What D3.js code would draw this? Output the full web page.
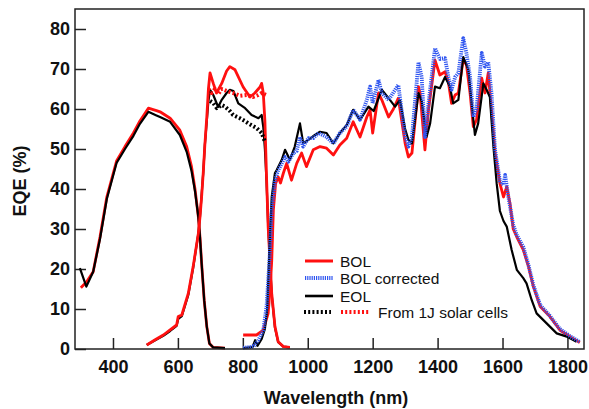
<!DOCTYPE html>
<html>
<head>
<meta charset="utf-8">
<script src="https://cdn.jsdelivr.net/npm/d3@7"></script>
<style>
  body { margin: 0; background: #fff; }
  svg { display: block; font-family: Arial, "Liberation Sans", sans-serif; }
  .tick text { font-size: 18px; font-weight: bold; fill: #111; }
</style>
</head>
<body>
<svg id="chart" width="589" height="409"></svg>
<script>
// top junction
const j1Wl = [301, 319, 339, 360, 381, 411, 437, 463, 483, 509, 534, 545, 576, 606, 627, 642, 653, 663, 668, 673, 681, 689, 697, 709, 745];
const j1Bol = [15.3, 16.8, 19.3, 28, 38, 47, 50.6, 54, 57, 60.2, 59.6, 59.3, 57.7, 54.7, 50.6, 45.6, 39.8, 33, 28, 21.5, 12.2, 5.6, 1.4, 0.4, 0.2];
const j1EolWl = [298, 318, 339, 360, 381, 411, 437, 463, 483, 509, 534, 545, 576, 606, 627, 642, 653, 663, 668, 673, 681, 689, 697, 709, 745];
const j1Eol = [20.2, 15.6, 19.3, 27.5, 37.5, 46.5, 50, 53.3, 56.3, 59.3, 58.4, 58, 56.8, 53.5, 49.3, 44.5, 39.3, 33, 28, 21.5, 12.2, 5.6, 1.4, 0.4, 0.2];

// middle junction
const j2Wl = [504, 530, 555, 576, 596, 601, 612, 632, 647, 663, 668, 673, 678, 683, 689, 694, 699, 709, 719, 735, 750, 760, 776, 801, 822, 837, 853, 858, 863, 868, 873, 878, 889, 899, 909, 925, 945];
const j2Bol = [1, 2.3, 3.5, 4.8, 6, 8.1, 8.5, 13.9, 20.6, 28.9, 33, 38, 44, 51, 58, 65, 69, 66.4, 64, 66.4, 69.5, 70.6, 69.8, 65.5, 63, 64, 65.5, 66.4, 64, 57, 43, 30.6, 13.9, 5.6, 1.8, 0.6, 0.4];
const j2EolWl = [504, 530, 555, 576, 596, 601, 612, 632, 647, 663, 668, 678, 683, 689, 694, 699, 709, 724, 735, 750, 760, 771, 786, 807, 827, 848, 858, 863, 868, 873, 878, 889, 899, 909, 925, 945];
const j2Eol = [1, 2.2, 3.3, 4.5, 5.8, 7.5, 8.2, 13.5, 20.3, 28.9, 33, 44, 51, 57, 62, 64.8, 63.5, 60.5, 62.3, 64, 64.8, 64.5, 61.4, 60.2, 58.5, 57.7, 58.5, 55.5, 50, 42, 31, 13.5, 5.4, 1.7, 0.6, 0.4];
// from 1J solar cells
const j2Eol1JWl = [699, 709, 720, 735, 745, 760, 770, 791, 806, 817, 843, 858, 868];
const j2Eol1J = [62, 61.5, 60.2, 61, 60.6, 59.5, 58.5, 57.7, 57, 56.4, 55.2, 54, 51.8];
const j2Bol1JWl = [694, 704, 714, 725, 735, 750, 770, 791, 812, 832, 848, 858, 872];
const j2Bol1J = [65, 64, 65, 63.8, 65, 64.5, 64, 63.3, 63.5, 63, 63.5, 64, 63.5];

// bottom junction
const j3Wl = [801, 842, 863, 878, 884, 889, 894, 901, 909, 916, 925, 935, 950, 966, 981, 996, 1017, 1038, 1058, 1079, 1099, 1120, 1140, 1161, 1182, 1192, 1200, 1218, 1228, 1249, 1264, 1279, 1300, 1310, 1321, 1341, 1346, 1361, 1372, 1392, 1407, 1423, 1433, 1443, 1454, 1464, 1479, 1489, 1500, 1510, 1520, 1536, 1546, 1556, 1566, 1577, 1592, 1603, 1613, 1623, 1633, 1644, 1664, 1680, 1695, 1716, 1746, 1777, 1808, 1838];
const j3Bol = [3.5, 3.5, 4.7, 8.9, 15, 22, 34.7, 41.4, 43, 41.5, 44, 46.4, 42.2, 46.4, 49, 45.6, 49.8, 50.6, 50.2, 48.5, 51, 52.7, 56.8, 53, 58, 59.8, 54, 64, 62.3, 58, 60, 62.7, 51.4, 48, 49, 65.6, 64, 49.8, 59.8, 72.2, 68.5, 69.3, 66.8, 61.4, 63.5, 64, 72.5, 71, 64, 55.6, 57.3, 67.7, 64, 69, 59.8, 49, 41.4, 38, 40.6, 36.4, 30, 28, 24.8, 20.6, 15.6, 10.6, 8.1, 4.7, 3.1, 1.6];
const j3CorrWl = [801, 832, 848, 863, 873, 882, 889, 899, 909, 920, 930, 940, 956, 966, 976, 986, 1002, 1017, 1033, 1058, 1079, 1099, 1120, 1140, 1161, 1182, 1192, 1200, 1218, 1228, 1249, 1279, 1300, 1310, 1321, 1341, 1351, 1361, 1372, 1392, 1407, 1423, 1433, 1443, 1454, 1464, 1479, 1489, 1500, 1510, 1520, 1536, 1546, 1556, 1566, 1577, 1592, 1603, 1608, 1618, 1633, 1644, 1664, 1680, 1695, 1716, 1746, 1777, 1808, 1838];
const j3Corr = [0.3, 0.6, 2.2, 4.7, 10.6, 22, 34.7, 42.2, 44.7, 46.4, 48, 46.8, 49, 49.5, 53, 50.6, 52.7, 52.7, 54, 53, 51.4, 54, 55.6, 59.8, 57.3, 62.3, 65.6, 61.4, 67.3, 64, 62.3, 66, 53, 50.6, 53, 71.7, 68, 53, 61.4, 75.2, 72.5, 72.7, 68, 64.8, 68, 69, 77.7, 73.9, 68, 58, 60, 74, 70.6, 71.7, 64, 49.8, 42, 41, 43.5, 38, 31, 28.5, 25.5, 21, 16, 11, 8.3, 5, 3.2, 1.8];
const j3EolWl = [801, 830, 838, 845, 858, 868, 875, 882, 889, 899, 904, 920, 930, 945, 960, 976, 986, 1002, 1022, 1038, 1058, 1079, 1099, 1120, 1140, 1161, 1187, 1203, 1228, 1249, 1269, 1284, 1300, 1310, 1321, 1341, 1351, 1366, 1377, 1392, 1407, 1423, 1438, 1448, 1464, 1479, 1495, 1505, 1515, 1525, 1541, 1551, 1561, 1572, 1582, 1592, 1603, 1613, 1628, 1644, 1664, 1674, 1690, 1705, 1736, 1767, 1798, 1828];
const j3Eol = [0.2, 0.5, 2.2, 0.8, 2.5, 5, 10, 25, 38, 44, 44.7, 47.3, 49.8, 47.3, 50.6, 56.4, 51.4, 52.3, 53.5, 54.3, 54, 51.4, 54, 56, 59.8, 57.3, 60.6, 59.5, 64.8, 62.7, 60.6, 62.3, 55, 52.3, 51.4, 64, 62, 53, 56.4, 65.6, 65.2, 68, 65.6, 61.4, 62.3, 73, 69.8, 61.4, 53.5, 56.4, 66.4, 64.8, 63, 50.6, 41.4, 34.5, 32, 30.6, 24.8, 19.8, 17.7, 16.4, 12.2, 8.9, 6.4, 3.9, 3.1, 1.8];

const xTicks = [400, 600, 800, 1000, 1200, 1400, 1600, 1800];
const yTicks = [0, 10, 20, 30, 40, 50, 60, 70, 80];

const RED = "#ff1010";
const BLUE = "#2f55f0";

const svg = d3.select("#chart");
const m = { left: 75, right: 584, top: 9, bottom: 349 };

const x = d3.scaleLinear().domain([283, 1851]).range([m.left, m.right]);
const y = d3.scaleLinear().domain([0, 85]).range([m.bottom, m.top]);

const zip = (wl, v) => wl.map((w, i) => [w, v[i]]);
const line = d3.line().x(d => x(d[0])).y(d => y(d[1]));

function drawCurve(wl, v, color, width, dash) {
  svg.append("path")
    .attr("d", line(zip(wl, v)))
    .attr("fill", "none")
    .attr("stroke", color)
    .attr("stroke-width", width)
    .attr("stroke-linejoin", "round")
    .attr("stroke-dasharray", dash || null);
}

// axes
const xAxis = d3.axisBottom(x).tickValues(xTicks).tickSizeInner(-11).tickSizeOuter(0).tickPadding(11).tickFormat(d3.format("d"));
const yAxis = d3.axisLeft(y).tickValues(yTicks).tickSizeInner(-11).tickSizeOuter(0).tickPadding(5);
svg.append("g").attr("transform", `translate(0,${m.bottom})`).call(xAxis)
  .call(g => g.select(".domain").remove())
  .call(g => g.selectAll(".tick line").attr("stroke", "#222").attr("stroke-width", 1.5));
svg.append("g").attr("transform", `translate(${m.left},0)`).call(yAxis)
  .call(g => g.select(".domain").remove())
  .call(g => g.selectAll(".tick line").attr("stroke", "#222").attr("stroke-width", 1.5));

// curves
drawCurve(j1Wl, j1Bol, RED, 2.8);
drawCurve(j1EolWl, j1Eol, "#000", 2.2);
drawCurve(j2EolWl, j2Eol, "#000", 2.2);
drawCurve(j2Wl, j2Bol, RED, 2.8);
drawCurve(j3Wl, j3Bol, RED, 2.8);
drawCurve(j3EolWl, j3Eol, "#000", 2.2);
drawCurve(j3CorrWl, j3Corr, BLUE, 3.8, "1.2,1");
drawCurve(j2Eol1JWl, j2Eol1J, "#000", 4, "2,2.2");
drawCurve(j2Bol1JWl, j2Bol1J, RED, 4, "2,2.2");

// frame
svg.append("rect")
  .attr("x", m.left).attr("y", m.top)
  .attr("width", m.right - m.left).attr("height", m.bottom - m.top)
  .attr("fill", "none").attr("stroke", "#222").attr("stroke-width", 1.5);

// axis titles
svg.append("text")
  .attr("x", 336).attr("y", 404)
  .attr("text-anchor", "middle")
  .attr("font-size", 18).attr("font-weight", "bold").attr("fill", "#111")
  .text("Wavelength (nm)");
svg.append("text")
  .attr("transform", "translate(26,181) rotate(-90)")
  .attr("text-anchor", "middle")
  .attr("font-size", 18).attr("font-weight", "bold").attr("fill", "#111")
  .text("EQE (%)");

// legend
const legend = svg.append("g");
const legItems = [
  { label: "BOL", color: RED, width: 3, dash: null, y: 261 },
  { label: "BOL corrected", color: BLUE, width: 3.8, dash: "1.2,1", y: 278 },
  { label: "EOL", color: "#000", width: 2.6, dash: null, y: 296 },
];
legItems.forEach(it => {
  legend.append("line")
    .attr("x1", 305).attr("x2", 333).attr("y1", it.y).attr("y2", it.y)
    .attr("stroke", it.color).attr("stroke-width", it.width)
    .attr("stroke-dasharray", it.dash);
  legend.append("text")
    .attr("x", 340).attr("y", it.y).attr("dy", "0.36em")
    .attr("font-size", 15.5).attr("fill", "#111")
    .text(it.label);
});
legend.append("line")
  .attr("x1", 304).attr("x2", 331).attr("y1", 312).attr("y2", 312)
  .attr("stroke", "#000").attr("stroke-width", 4).attr("stroke-dasharray", "2,2.2");
legend.append("line")
  .attr("x1", 341).attr("x2", 369).attr("y1", 312).attr("y2", 312)
  .attr("stroke", RED).attr("stroke-width", 4).attr("stroke-dasharray", "2,2.2");
legend.append("text")
  .attr("x", 378).attr("y", 312).attr("dy", "0.36em")
  .attr("font-size", 15.5).attr("fill", "#111")
  .text("From 1J solar cells");
</script>
</body>
</html>
